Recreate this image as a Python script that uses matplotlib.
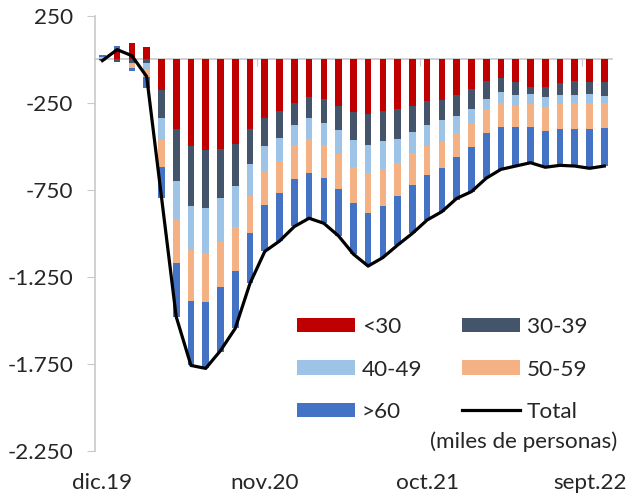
import matplotlib
matplotlib.use("Agg")
import matplotlib.pyplot as plt
import numpy as np
from matplotlib.ticker import FuncFormatter

plt.rcParams["font.family"] = ["Lato", "DejaVu Sans"]

# monthly, dic.19 .. oct.22 (thousands of people)
months = ["dic.19", "ene.20", "feb.20", "mar.20", "abr.20", "may.20", "jun.20",
          "jul.20", "ago.20", "sept.20", "oct.20", "nov.20", "dic.20", "ene.21",
          "feb.21", "mar.21", "abr.21", "may.21", "jun.21", "jul.21", "ago.21",
          "sept.21", "oct.21", "nov.21", "dic.21", "ene.22", "feb.22", "mar.22",
          "abr.22", "may.22", "jun.22", "jul.22", "ago.22", "sept.22", "oct.22"]
shown_labels = ["dic.19", "nov.20", "oct.21", "sept.22"]

age_under30 = [-3, 58, 92, 72, -176, -402, -497, -522, -516, -487, -402, -339,
               -297, -250, -217, -230, -269, -305, -315, -299, -288, -270, -238,
               -234, -205, -173, -123, -109, -132, -158, -161, -138, -125, -129,
               -129]
age_30_39 = [4, -15, -20, -23, -160, -298, -345, -331, -283, -242, -200, -160,
             -154, -128, -121, -135, -138, -159, -178, -171, -170, -148, -140,
             -115, -121, -113, -105, -81, -73, -42, -54, -67, -80, -71, -80]
age_40_49 = [8, 0, -10, -35, -128, -220, -255, -259, -253, -234, -184, -142,
             -134, -117, -122, -128, -139, -154, -163, -161, -140, -123, -119,
             -121, -100, -79, -60, -63, -62, -57, -58, -52, -48, -51, -44]
age_50_59 = [-10, 0, -19, -42, -154, -253, -293, -282, -259, -254, -215, -197,
             -186, -195, -196, -188, -200, -207, -226, -211, -188, -182, -168,
             -153, -138, -142, -138, -135, -124, -134, -138, -146, -148, -152,
             -140]
age_over60 = [12, 15, -19, -67, -182, -307, -368, -383, -370, -330, -287, -263,
              -272, -269, -258, -262, -270, -295, -301, -293, -282, -278, -259,
              -253, -245, -254, -258, -245, -223, -207, -210, -207, -213, -218,
              -221]
total = [-8, 55, 20, -100, -790, -1480, -1760, -1777, -1675, -1547, -1288,
         -1105, -1045, -962, -914, -943, -1016, -1120, -1189, -1140, -1068,
         -1001, -924, -876, -800, -761, -684, -633, -614, -595, -621, -610,
         -614, -627, -614]

series = [("<30", age_under30, "#C00000"),
          ("30-39", age_30_39, "#44546A"),
          ("40-49", age_40_49, "#9DC3E6"),
          ("50-59", age_50_59, "#F4B183"),
          (">60", age_over60, "#4472C4")]

text_color = "#262626"
axis_color = "#C9C9C9"
fs = 16.2

fig = plt.figure(figsize=(6.27, 4.96), dpi=100)
ax = fig.add_axes([95 / 627, 1 - 450.7 / 496, (611.7 - 95) / 627, (450.7 - 15.7) / 496])

x = np.arange(len(months))
pos_base = np.zeros(len(months))
neg_base = np.zeros(len(months))
handles = {}
for name, vals, color in series:
    v = np.array(vals, dtype=float)
    bottom = np.where(v >= 0, pos_base, neg_base)
    handles[name] = ax.bar(x, v, 0.45, bottom=bottom, color=color, label=name)
    pos_base += np.clip(v, 0, None)
    neg_base += np.clip(v, None, 0)

handles["Total"], = ax.plot(x, total, color="black", lw=2.3, label="Total",
                            solid_joinstyle="round", zorder=5)

ax.set_xlim(-0.5, len(months) - 0.5)
ax.set_ylim(-2250, 250)
ax.set_yticks(np.arange(-2250, 251, 500))
ax.yaxis.set_major_formatter(FuncFormatter(lambda v, p: f"{v:,.0f}".replace(",", ".")))
ax.tick_params(axis="y", length=5.5, color=axis_color, labelsize=fs,
               labelcolor=text_color, pad=10)

label_pos = [months.index(m) for m in shown_labels]
ax.set_xticks(label_pos)
ax.set_xticklabels(shown_labels)
ax.tick_params(axis="x", length=0, labelsize=fs, labelcolor=text_color, pad=16)

for s in ["top", "right", "bottom"]:
    ax.spines[s].set_visible(False)
ax.spines["left"].set_color(axis_color)
ax.spines["left"].set_linewidth(1.2)

# category axis drawn through zero
zero_ax = ax.secondary_xaxis(0, transform=ax.transData)
zero_ax.set_xticks([10.5, 21.5, 32.5])
zero_ax.set_xticklabels([])
zero_ax.tick_params(length=5, color=axis_color, direction="out")
zero_ax.spines["bottom"].set_color(axis_color)
zero_ax.spines["bottom"].set_linewidth(1.2)

order = ["<30", "40-49", ">60", "30-39", "50-59", "Total"]
leg = ax.legend([handles[k] for k in order], order, ncol=2, frameon=False,
                loc="upper left", bbox_to_anchor=(296.7 / 627, 1 - 317 / 496),
                bbox_transform=fig.transFigure, borderpad=0, borderaxespad=0,
                fontsize=fs, handlelength=2.6, handleheight=0.6,
                handletextpad=0.3, labelspacing=1.0, columnspacing=1.75,
                labelcolor=text_color)

fig.text(617 / 627, 1 - 441.7 / 496, "(miles de personas)", ha="right",
         va="center", fontsize=fs, color=text_color)

fig.savefig("out.png", dpi=100)
